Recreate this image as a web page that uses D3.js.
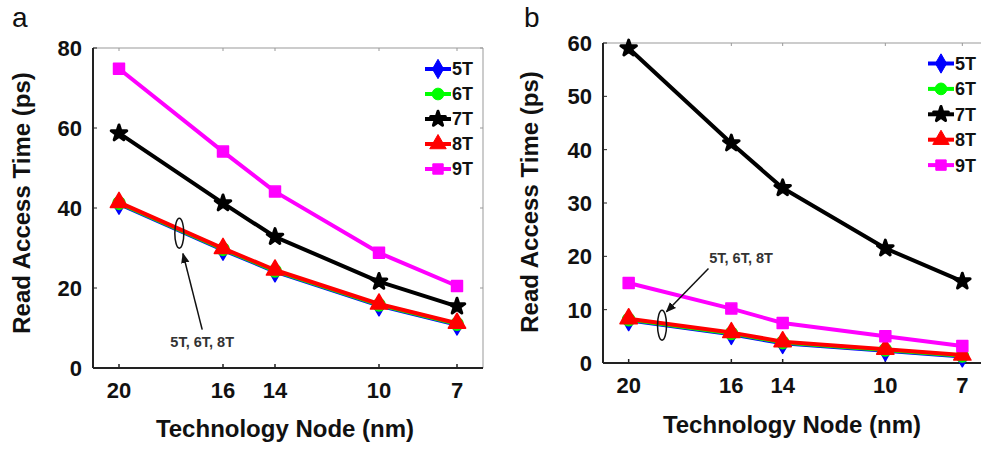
<!DOCTYPE html>
<html>
<head>
<meta charset="utf-8">
<script src="https://cdn.jsdelivr.net/npm/d3@7"></script>
<style>
body { margin:0; background:#fff; }
svg { display:block; font-family:"Liberation Sans", Arial, sans-serif; }
.tick { font-size:22px; font-weight:bold; fill:#111; }
.title { font-size:24px; font-weight:bold; fill:#111; }
.legend { font-size:18px; font-weight:bold; fill:#111; }
.note { font-size:14.5px; font-weight:bold; fill:#333; }
.panel { font-size:28px; fill:#111; }
</style>
</head>
<body>
<svg width="981" height="449"></svg>
<script>
// technology nodes (nm) on the x axis
var nodes=[20,16,14,10,7];
var cells=["5T","6T","7T","8T","9T"];
var colors=["#0000ff","#00ff00","#000000","#ff0000","#ff00ff"];

// panel a read access time (ps)
var a5T=[41.0,29.5,24.1,15.6,10.8];
var a6T=[41.2,29.7,24.3,15.8,11.0];
var a7T=[58.7,41.2,32.8,21.6,15.4];
var a8T=[41.4,29.9,24.5,16.0,11.2];
var a9T=[74.8,54.1,44.1,28.8,20.5];
var aTicks=[0,20,40,60,80];

// panel b read access time (ps)
var b5T=[8.0,5.4,3.7,2.3,1.2];
var b6T=[8.15,5.55,3.85,2.45,1.35];
var b7T=[59.0,41.2,32.8,21.5,15.3];
var b8T=[8.3,5.7,4.0,2.6,1.5];
var b9T=[15.0,10.2,7.5,5.0,3.2];
var bTicks=[0,10,20,30,40,50,60];

// annotation anchors, in data units [node, ps]
var aNote={ellipse:[17.68,33.7],from:[16.8,9.6],to:[17.54,28.6],label:[16.8,5.3]};
var bNote={ellipse:[18.7,7.1],from:[16.89,17.7],to:[18.53,9.6],label:[16.86,18.7]};

var symbols=[d3.symbolDiamond,d3.symbolCircle,d3.symbolStar,d3.symbolTriangle,d3.symbolSquare];
var symSize=[120,120,75,130,120];

var svg=d3.select("svg");

svg.append("defs").append("marker")
	.attr("id","arrow").attr("viewBox","0 0 10 10")
	.attr("refX",9).attr("refY",5)
	.attr("markerWidth",7).attr("markerHeight",7)
	.attr("orient","auto")
	.append("path").attr("d","M0,1 L10,5 L0,9 Z").attr("fill","#111");

function drawPanel(p) {
	var x=d3.scaleLinear().domain([21,6]).range([p.left,p.right]);
	var y=d3.scaleLinear().domain([0,p.ymax]).range([p.bottom,p.top]);
	var g=svg.append("g");

	// frame: gray top/right, dark left/bottom
	g.append("line").attr("x1",p.left).attr("x2",p.right).attr("y1",p.top).attr("y2",p.top)
		.attr("stroke","#999").attr("stroke-width",1);
	g.append("line").attr("x1",p.right).attr("x2",p.right).attr("y1",p.top).attr("y2",p.bottom)
		.attr("stroke","#999").attr("stroke-width",1);

	// inward ticks
	g.selectAll(".xt").data(nodes).enter().append("line")
		.attr("x1",function(d){return x(d);}).attr("x2",function(d){return x(d);})
		.attr("y1",p.bottom).attr("y2",p.bottom-4).attr("stroke","#222").attr("stroke-width",1.5);
	g.selectAll(".xtt").data(nodes).enter().append("line")
		.attr("x1",function(d){return x(d);}).attr("x2",function(d){return x(d);})
		.attr("y1",p.top).attr("y2",p.top+3).attr("stroke","#999");
	g.selectAll(".yt").data(p.ticks).enter().append("line")
		.attr("x1",p.left).attr("x2",p.left+4)
		.attr("y1",function(d){return y(d);}).attr("y2",function(d){return y(d);})
		.attr("stroke","#222");
	g.selectAll(".ytr").data(p.ticks).enter().append("line")
		.attr("x1",p.right).attr("x2",p.right-3)
		.attr("y1",function(d){return y(d);}).attr("y2",function(d){return y(d);})
		.attr("stroke","#999");

	g.append("line").attr("x1",p.left).attr("x2",p.left).attr("y1",p.top).attr("y2",p.bottom)
		.attr("stroke","#222").attr("stroke-width",2);
	g.append("line").attr("x1",p.left).attr("x2",p.right).attr("y1",p.bottom).attr("y2",p.bottom)
		.attr("stroke","#222").attr("stroke-width",2);

	// tick labels
	g.selectAll(".xl").data(nodes).enter().append("text").classed("tick",true)
		.attr("x",function(d){return x(d);}).attr("y",p.bottom+30)
		.attr("text-anchor","middle").text(function(d){return d;});
	g.selectAll(".yl").data(p.ticks).enter().append("text").classed("tick",true)
		.attr("x",p.left-p.ylabGap).attr("y",function(d){return y(d);}).attr("dy","0.36em")
		.attr("text-anchor","end").text(function(d){return d;});

	// axis titles
	g.append("text").classed("title",true).attr("x",p.xtitle[0]).attr("y",p.xtitle[1])
		.attr("text-anchor","middle").text("Technology Node (nm)");
	g.append("text").classed("title",true).attr("text-anchor","middle")
		.attr("transform","translate("+p.ytitle[0]+","+p.ytitle[1]+") rotate(-90)")
		.text("Read Access Time (ps)");
	g.append("text").classed("panel",true).attr("x",p.label[0]).attr("y",p.label[1]).text(p.name);

	// series
	var line=d3.line().x(function(d,i){return x(nodes[i]);}).y(function(d){return y(d);});
	p.series.forEach(function(s,k) {
		g.append("path").attr("d",line(s)).attr("fill","none")
			.attr("stroke",colors[k]).attr("stroke-width",4).attr("stroke-linejoin","round");
		g.selectAll(".m"+k).data(s).enter().append("path")
			.attr("transform",function(d,i){return "translate("+x(nodes[i])+","+y(d)+")";})
			.attr("d",d3.symbol().type(symbols[k]).size(symSize[k]))
			.attr("fill",colors[k]).attr("stroke",colors[k])
			.attr("stroke-width",k==2?3:1.5).attr("stroke-linejoin","round");
	});

	// annotation
	var n=p.note;
	g.append("ellipse").attr("cx",x(n.ellipse[0])).attr("cy",y(n.ellipse[1]))
		.attr("rx",4.5).attr("ry",15).attr("fill","none").attr("stroke","#111").attr("stroke-width",1.5);
	g.append("line").attr("x1",x(n.from[0])).attr("y1",y(n.from[1]))
		.attr("x2",x(n.to[0])).attr("y2",y(n.to[1]))
		.attr("stroke","#111").attr("stroke-width",1.5).attr("marker-end","url(#arrow)");
	g.append("text").classed("note",true).attr("x",x(n.label[0])).attr("y",y(n.label[1]))
		.attr("text-anchor",p.noteAnchor).text("5T, 6T, 8T");

	// legend
	var lg=g.selectAll(".lg").data(cells).enter().append("g")
		.attr("transform",function(d,i){return "translate("+p.legend[0]+","+(p.legend[1]+i*p.legend[2])+")";});
	lg.append("line").attr("x1",0).attr("x2",26).attr("stroke",function(d,i){return colors[i];}).attr("stroke-width",4);
	lg.append("path").attr("transform","translate(13,0)")
		.attr("d",function(d,i){return d3.symbol().type(symbols[i]).size(symSize[i]*0.9)();})
		.attr("fill",function(d,i){return colors[i];}).attr("stroke",function(d,i){return colors[i];})
		.attr("stroke-width",function(d,i){return i==2?3:1;}).attr("stroke-linejoin","round");
	lg.append("text").classed("legend",true).attr("x",27).attr("dy","0.36em").text(function(d){return d;});
}

drawPanel({name:"a",left:93,right:483,top:48,bottom:368,ymax:80,ticks:aTicks,ylabGap:11,
	series:[a5T,a6T,a7T,a8T,a9T],xtitle:[285,437],ytitle:[30,203],label:[12,27],
	legend:[425,69,25],note:aNote,noteAnchor:"middle"});
drawPanel({name:"b",left:603,right:988,top:43,bottom:363,ymax:60,ticks:bTicks,ylabGap:11,
	series:[b5T,b6T,b7T,b8T,b9T],xtitle:[792,433],ytitle:[538,202],label:[524,27],
	legend:[928,63.5,25.4],note:bNote,noteAnchor:"start"});
</script>
</body>
</html>
